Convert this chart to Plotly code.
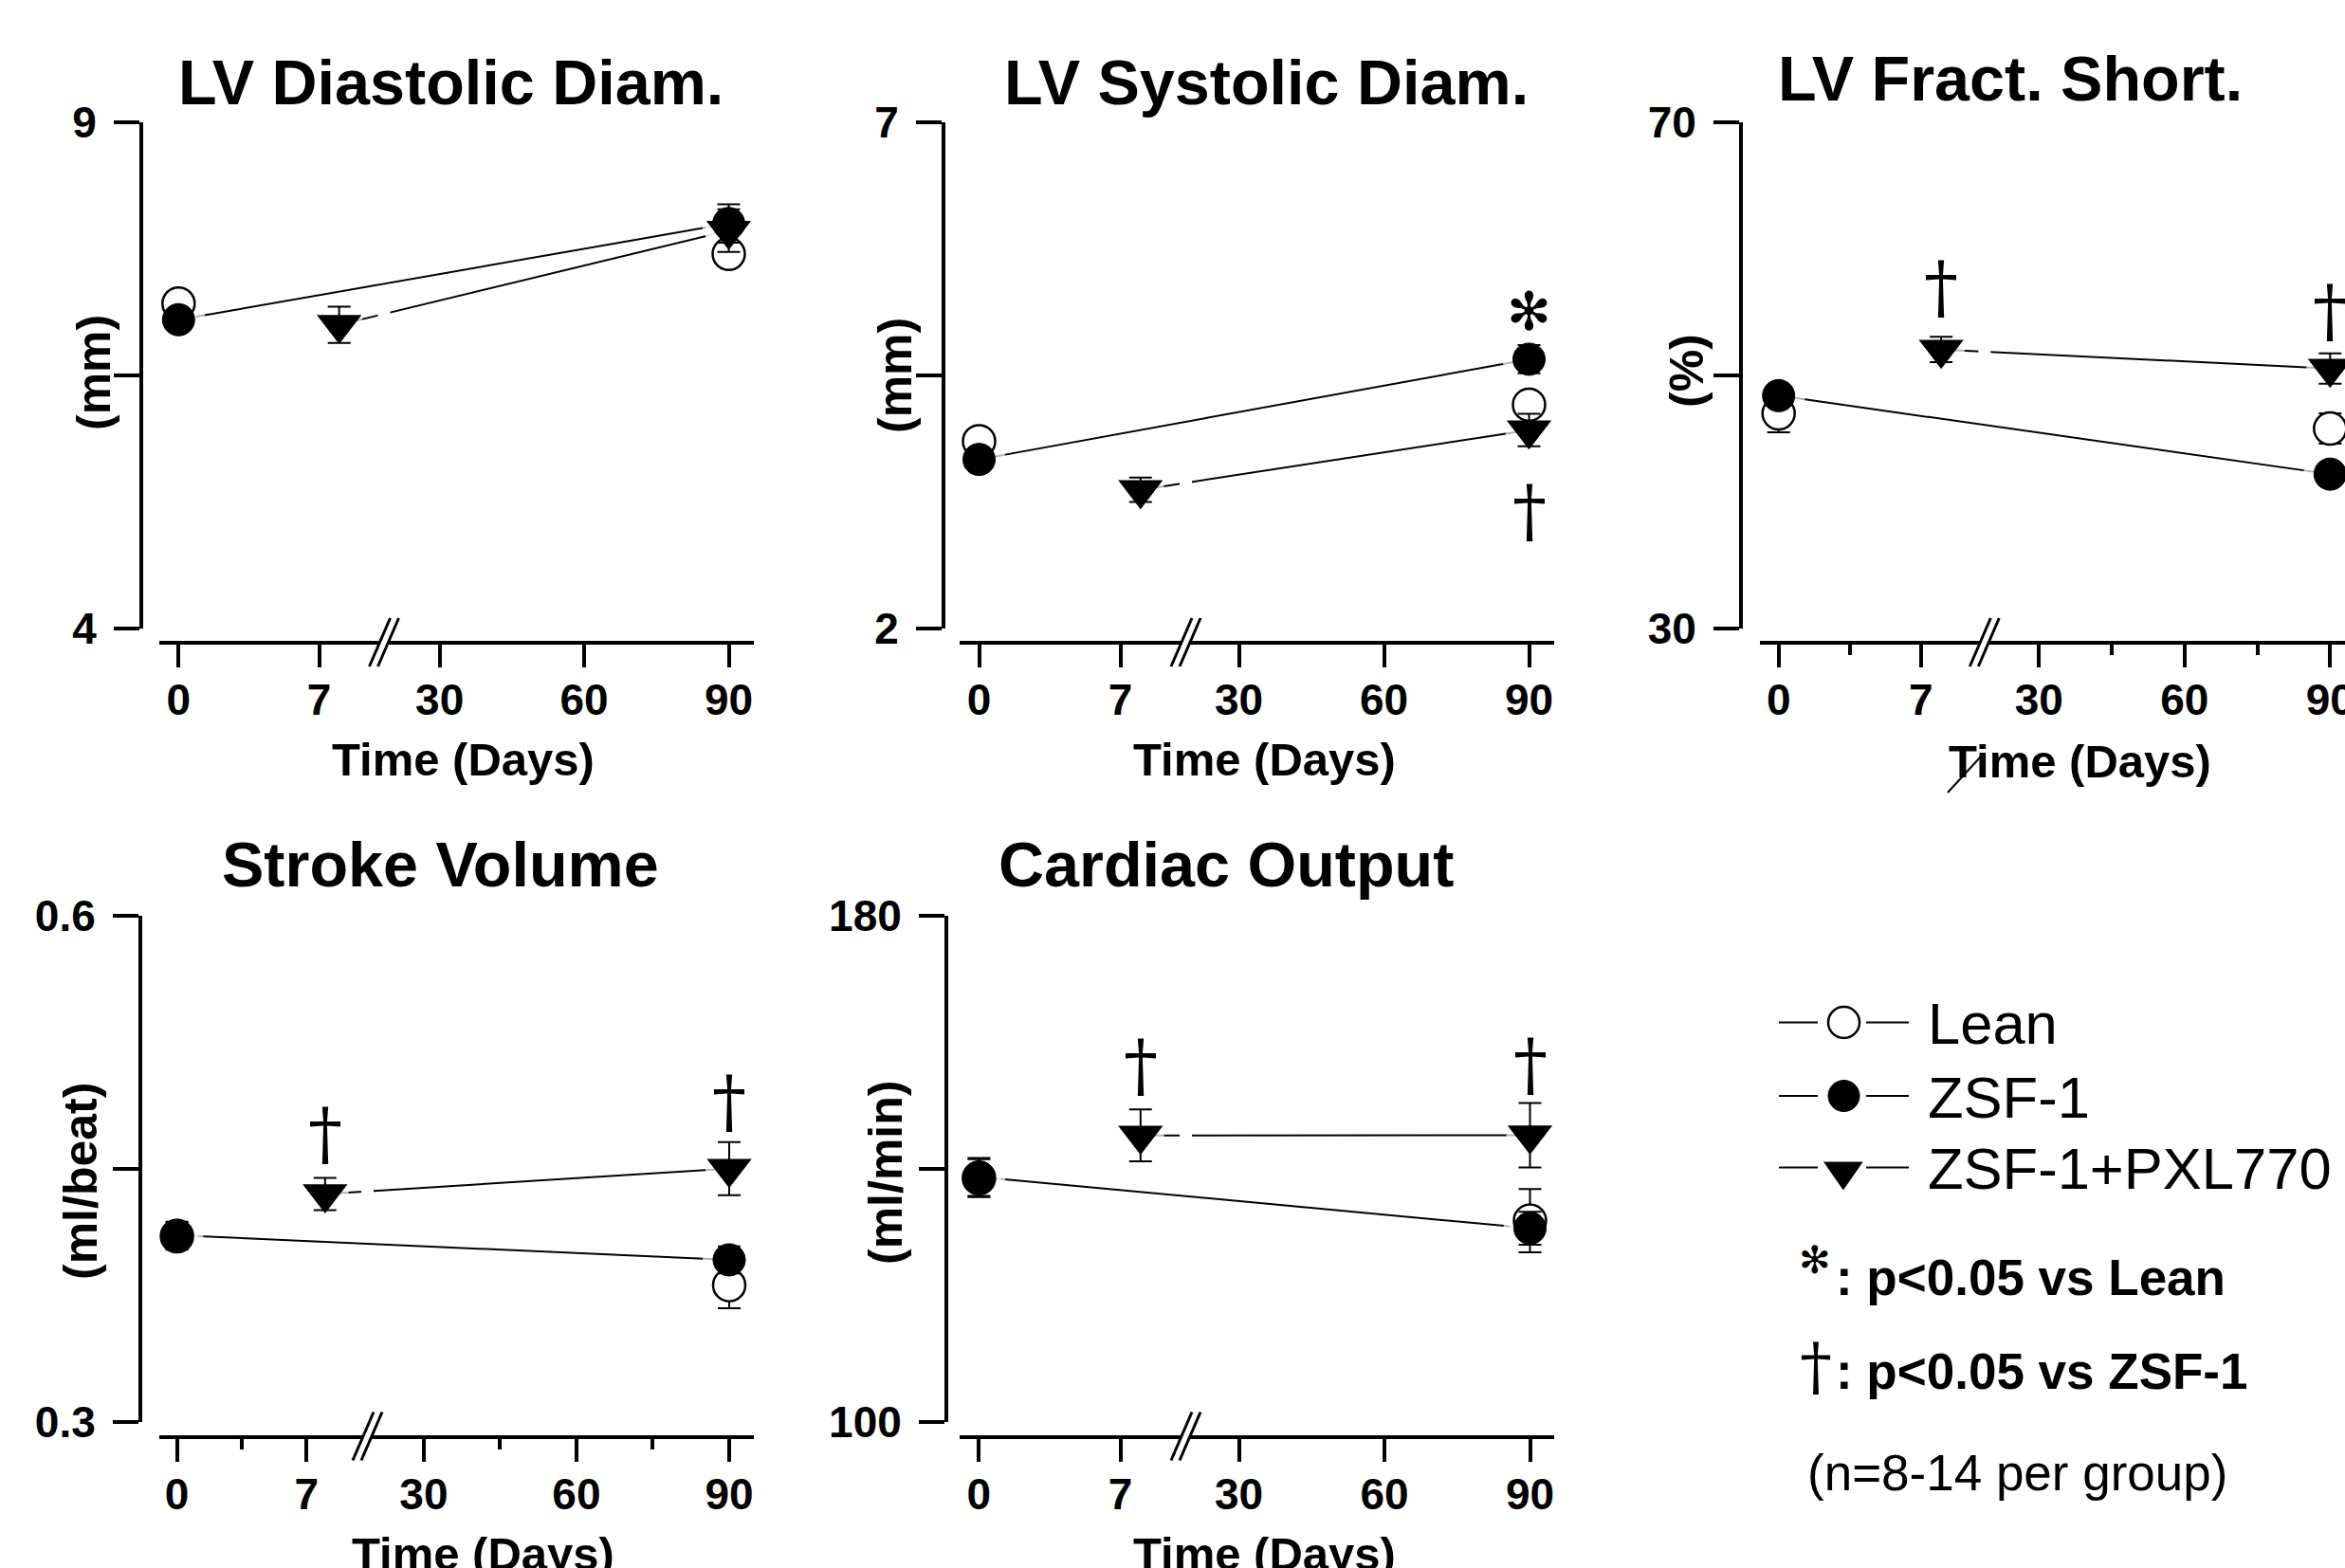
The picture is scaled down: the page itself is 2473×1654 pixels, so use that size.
import numpy as np
import plotly.graph_objects as go

W, H = 2473, 1654
FONT = "Liberation Sans"

# ---------------- data ----------------
panel_titles = ["LV Diastolic Diam.", "LV Systolic Diam.", "LV Fract. Short.",
                "Stroke Volume", "Cardiac Output"]
y_titles = ["(mm)", "(mm)", "(%)", "(ml/beat)", "(ml/min)"]
y_ranges = [(4, 9), (2, 7), (30, 70), (0.3, 0.6), (100, 180)]
y_tick_labels = [("4", "9"), ("2", "7"), ("30", "70"), ("0.3", "0.6"), ("100", "180")]
x_tick_days = [0, 7, 30, 60, 90]
x_tick_labels = ["0", "7", "30", "60", "90"]
x_minor_days = [3.5, 45, 75]
x_title = "Time (Days)"

days_lean = [0, 90]
days_zsf = [0, 90]
days_pxl = [8, 90]

lean_mean = [[7.21, 7.70], [3.85, 4.21], [47.0, 45.8], [0.410, 0.381], [138.5, 131.8]]
lean_se = [[0.08, 0.12], [0.10, 0.11], [1.5, 1.2], [0.008, 0.0137], [3.0, 5.0]]
zsf_mean = [[7.05, 8.00], [3.67, 4.66], [48.4, 42.2], [0.4106, 0.396], [138.7, 130.6]]
zsf_se = [[0.08, 0.19], [0.10, 0.14], [0.8, 0.8], [0.008, 0.008], [3.0, 2.6]]
pxl_mean = [[7.00, 7.93], [3.37, 3.96], [52.05, 50.55], [0.435, 0.450], [145.25, 145.27]]
pxl_se = [[0.18, 0.21], [0.12, 0.16], [1.0, 1.2], [0.0095, 0.0157], [4.1, 5.1]]

legend_names = ["Lean", "ZSF-1", "ZSF-1+PXL770"]
note_lean = ": p<0.05 vs Lean"
note_zsf = ": p<0.05 vs ZSF-1"
note_n = "(n=8-14 per group)"

# significance marks: (panel index, group, time index, symbol)
sig_marks = [(1, "zsf", 1, "\u273B"), (1, "pxl", 1, "\u2020"),
             (2, "pxl", 0, "\u2020"), (2, "pxl", 1, "\u2020"),
             (3, "pxl", 0, "\u2020"), (3, "pxl", 1, "\u2020"),
             (4, "pxl", 0, "\u2020"), (4, "pxl", 1, "\u2020")]

# ---------------- layout constants (pixels) ----------------
sig_shift_px = [50, -85, 66, 61, 63, 71, 74, 75]

panels = [
    dict(xdom=(168, 795), yax=149, ytop=129, ybot=663, xax=678,
         t=(188.3, 336.5, 463.7, 768.5), brk=405, minor=False,
         title=(475, 87), ytitle=(99, 393), xtitle=(489, 801)),
    dict(xdom=(1012, 1639), yax=995, ytop=129, ybot=663, xax=678,
         t=(1032.5, 1181.5, 1306.6, 1612.5), brk=1250.5, minor=False,
         title=(1335, 87), ytitle=(944, 396), xtitle=(1333, 801)),
    dict(xdom=(1856, 2473), yax=1836, ytop=129, ybot=663, xax=678,
         t=(1875.7, 2025.7, 2150.3, 2457.3), brk=2092.8, minor=True,
         title=(2120, 83), ytitle=(1779, 391), xtitle=(2193, 803)),
    dict(xdom=(168, 795), yax=148, ytop=965.5, ybot=1500, xax=1515.5,
         t=(186.6, 323.3, 446.9, 769.0), brk=387.5, minor=True,
         title=(464, 912), ytitle=(85, 1246), xtitle=(509, 1639)),
    dict(xdom=(1012, 1639), yax=998, ytop=965.5, ybot=1500, xax=1515.5,
         t=(1032.4, 1181.5, 1306.6, 1613.5), brk=1250.5, minor=False,
         title=(1293, 912), ytitle=(934, 1237), xtitle=(1333, 1639)),
]


def day_to_px(d, t):
    t0, t7, t30, t90 = t
    d = np.asarray(d, dtype=float)
    early = t0 + d * (t7 - t0) / 7.0
    late = t30 + (d - 30.0) * (t90 - t30) / 60.0
    return np.where(d < 20, early, late)


def PX(px):
    return px / W


def PY(py):
    return 1 - py / H


def bold(size):
    return dict(family=FONT, size=size, color="black", weight="bold")


def regular(size, family=FONT):
    return dict(family=family, size=size, color="black")


fig = go.Figure()
annotations = []
shapes = []
axes = {}

groups = {"lean": (days_lean, lean_mean, lean_se),
          "zsf": (days_zsf, zsf_mean, zsf_se),
          "pxl": (days_pxl, pxl_mean, pxl_se)}

for i, p in enumerate(panels):
    k = i + 1
    xa = "x" if k == 1 else f"x{k}"
    ya = "y" if k == 1 else f"y{k}"
    xname = "xaxis" if k == 1 else f"xaxis{k}"
    yname = "yaxis" if k == 1 else f"yaxis{k}"
    lo, hi = y_ranges[i]
    t = p["t"]

    def xz(d):
        return day_to_px(d, t)

    common = dict(xaxis=xa, yaxis=ya, hoverinfo="skip", showlegend=False)
    # connecting lines
    fig.add_trace(go.Scatter(x=xz(days_zsf), y=zsf_mean[i], mode="lines",
                             line=dict(color="black", width=2), **common))
    fig.add_trace(go.Scatter(x=xz(days_pxl), y=pxl_mean[i], mode="lines",
                             line=dict(color="black", width=2), **common))
    # white halos leave a gap between lines and symbols
    hx = np.concatenate([xz(days_lean), xz(days_zsf), xz(days_pxl)])
    hy = list(lean_mean[i]) + list(zsf_mean[i]) + list(pxl_mean[i])
    hs = [46, 46, 56, 56, 50, 50]
    fig.add_trace(go.Scatter(x=hx, y=hy, mode="markers",
                             marker=dict(color="white", size=hs, line=dict(width=0)),
                             **common))
    eb = dict(type="data", visible=True, color="black", thickness=2, width=12)
    fig.add_trace(go.Scatter(x=xz(days_lean), y=lean_mean[i], mode="markers",
                             marker=dict(symbol="circle", size=34, color="white",
                                         line=dict(color="black", width=2.5)),
                             error_y=dict(array=lean_se[i], **eb), **common))
    fig.add_trace(go.Scatter(x=xz(days_zsf), y=zsf_mean[i], mode="markers",
                             marker=dict(symbol="circle", size=34, color="black",
                                         line=dict(color="black", width=1)),
                             error_y=dict(array=zsf_se[i], **eb), **common))
    fig.add_trace(go.Scatter(x=xz(days_pxl), y=pxl_mean[i], mode="markers",
                             marker=dict(symbol="triangle-down", size=41, color="black",
                                         line=dict(color="black", width=0)),
                             error_y=dict(array=pxl_se[i], **eb), **common))

    xaxis = dict(domain=[PX(p["xdom"][0]), PX(p["xdom"][1])],
                 range=[p["xdom"][0], p["xdom"][1]],
                 anchor="free", position=PY(p["xax"]), automargin=False,
                 showline=True, linecolor="black", linewidth=4,
                 ticks="outside", ticklen=24, tickwidth=4, tickcolor="black",
                 tickvals=list(xz(x_tick_days)), ticktext=x_tick_labels,
                 tickfont=bold(46), ticklabelstandoff=-5, ticklabeloverflow="allow",
                 showgrid=False, zeroline=False, fixedrange=True)
    if p["minor"]:
        xaxis["minor"] = dict(tickvals=list(xz(x_minor_days)), ticks="outside",
                              ticklen=11, tickwidth=4, tickcolor="black", showgrid=False)
    axes[xname] = xaxis
    axes[yname] = dict(domain=[PY(p["ybot"]), PY(p["ytop"])], range=[lo, hi],
                       anchor="free", position=PX(p["yax"]), automargin=False,
                       showline=True, linecolor="black", linewidth=4,
                       ticks="outside", ticklen=27, tickwidth=4, tickcolor="black",
                       tickvals=[lo, (lo + hi) / 2, hi],
                       ticktext=[y_tick_labels[i][0], "", y_tick_labels[i][1]],
                       tickfont=bold(46), ticklabelstandoff=9, ticklabeloverflow="allow",
                       showgrid=False, zeroline=False, fixedrange=True)

    # titles
    annotations.append(dict(text=panel_titles[i], x=PX(p["title"][0]), y=PY(p["title"][1]),
                            xref="paper", yref="paper", xanchor="center", yanchor="middle",
                            showarrow=False, font=bold(66.5)))
    annotations.append(dict(text=y_titles[i], x=PX(p["ytitle"][0]), y=PY(p["ytitle"][1]),
                            xref="paper", yref="paper", xanchor="center", yanchor="middle",
                            textangle=-90, showarrow=False, font=bold(50)))
    annotations.append(dict(text=x_title, x=PX(p["xtitle"][0]), y=PY(p["xtitle"][1]),
                            xref="paper", yref="paper", xanchor="center", yanchor="middle",
                            showarrow=False, font=bold(49)))

    # axis break "//"
    bx, ay = p["brk"], p["xax"]
    shapes.append(dict(type="path", xref="paper", yref="paper", layer="above",
                       path=(f"M{PX(bx - 7)},{PY(ay + 7)} L{PX(bx + 1)},{PY(ay + 7)} "
                             f"L{PX(bx + 7)},{PY(ay - 7)} L{PX(bx - 1)},{PY(ay - 7)} Z"),
                       fillcolor="white", line=dict(width=0)))
    for dx in (-4.5, 4.5):
        shapes.append(dict(type="line", xref="paper", yref="paper", layer="above",
                           x0=PX(bx + dx - 11), y0=PY(ay + 25), x1=PX(bx + dx + 11), y1=PY(ay - 26),
                           line=dict(color="black", width=3)))
    # gap of the treated-group line at the axis break
    px8, px90 = xz(days_pxl)
    v_at = pxl_mean[i][0] + (bx - px8) / (px90 - px8) * (pxl_mean[i][1] - pxl_mean[i][0])
    py_at = p["ytop"] + (hi - v_at) / (hi - lo) * (p["ybot"] - p["ytop"])
    shapes.append(dict(type="line", xref="paper", yref="paper", layer="above",
                       x0=PX(bx), x1=PX(bx), y0=PY(py_at + 6), y1=PY(py_at - 6),
                       line=dict(color="white", width=13)))

# significance symbols
for (pi, grp, ti, sym), shift in zip(sig_marks, sig_shift_px):
    p = panels[pi]
    d, m, s = groups[grp]
    k = pi + 1
    xa = "x" if k == 1 else f"x{k}"
    ya = "y" if k == 1 else f"y{k}"
    if sym == "\u273B":
        f = dict(family="DejaVu Sans", size=56, color="black")
    else:
        f = dict(family="DejaVu Serif", size=72, color="black")
    annotations.append(dict(text=sym, x=float(day_to_px(d[ti], p["t"])), y=m[pi][ti],
                            xref=xa, yref=ya, yshift=shift, xanchor="center", yanchor="middle",
                            showarrow=False, font=f))

# stray mark under the third x-axis title
shapes.append(dict(type="line", xref="paper", yref="paper", layer="above",
                   x0=PX(2054), y0=PY(836), x1=PX(2089), y1=PY(798),
                   line=dict(color="black", width=2)))

# ---------------- legend (drawn) ----------------
leg_rows = [1078.5, 1156, 1231.5]
for yr in leg_rows:
    for xa0, xa1 in ((1876, 1917), (1968, 2013)):
        shapes.append(dict(type="line", xref="paper", yref="paper",
                           x0=PX(xa0), x1=PX(xa1), y0=PY(yr), y1=PY(yr),
                           line=dict(color="black", width=2)))
shapes.append(dict(type="circle", xref="paper", yref="paper",
                   x0=PX(1928), x1=PX(1961), y0=PY(leg_rows[0] - 16.5), y1=PY(leg_rows[0] + 16.5),
                   fillcolor="white", line=dict(color="black", width=2.5)))
shapes.append(dict(type="circle", xref="paper", yref="paper",
                   x0=PX(1928), x1=PX(1961), y0=PY(leg_rows[1] - 16.5), y1=PY(leg_rows[1] + 16.5),
                   fillcolor="black", line=dict(color="black", width=1)))
r3 = leg_rows[2]
shapes.append(dict(type="path", xref="paper", yref="paper",
                   path=f"M{PX(1923)},{PY(r3 - 6)} L{PX(1964.7)},{PY(r3 - 6)} L{PX(1943.9)},{PY(r3 + 24)} Z",
                   fillcolor="black", line=dict(width=0)))
for name, yr in zip(legend_names, leg_rows):
    annotations.append(dict(text=name, x=PX(2031), y=PY(yr + 1), xref="paper", yref="paper",
                            xanchor="left", yanchor="middle", showarrow=False, font=regular(61.5)))

annotations.append(dict(text="\u273B", x=PX(1914), y=PY(1329), xref="paper", yref="paper",
                        xanchor="center", yanchor="middle", showarrow=False,
                        font=dict(family="DejaVu Sans", size=40, color="black")))
annotations.append(dict(text=note_lean, x=PX(1934), y=PY(1347), xref="paper", yref="paper",
                        xanchor="left", yanchor="middle", showarrow=False, font=bold(53)))
annotations.append(dict(text="\u2020", x=PX(1915), y=PY(1441), xref="paper", yref="paper",
                        xanchor="center", yanchor="middle", showarrow=False,
                        font=dict(family="DejaVu Serif", size=68, color="black")))
annotations.append(dict(text=note_zsf, x=PX(1934), y=PY(1446), xref="paper", yref="paper",
                        xanchor="left", yanchor="middle", showarrow=False, font=bold(53)))
annotations.append(dict(text=note_n, x=PX(1904), y=PY(1553), xref="paper", yref="paper",
                        xanchor="left", yanchor="middle", showarrow=False, font=regular(53)))

fig.update_layout(width=W, height=H, margin=dict(l=0, r=0, t=0, b=0, autoexpand=False),
                  paper_bgcolor="white", plot_bgcolor="white",
                  showlegend=False, annotations=annotations, shapes=shapes, **axes)

fig.write_html("out.html", config={"displayModeBar": False},
               post_script="document.body.style.margin='0';")
